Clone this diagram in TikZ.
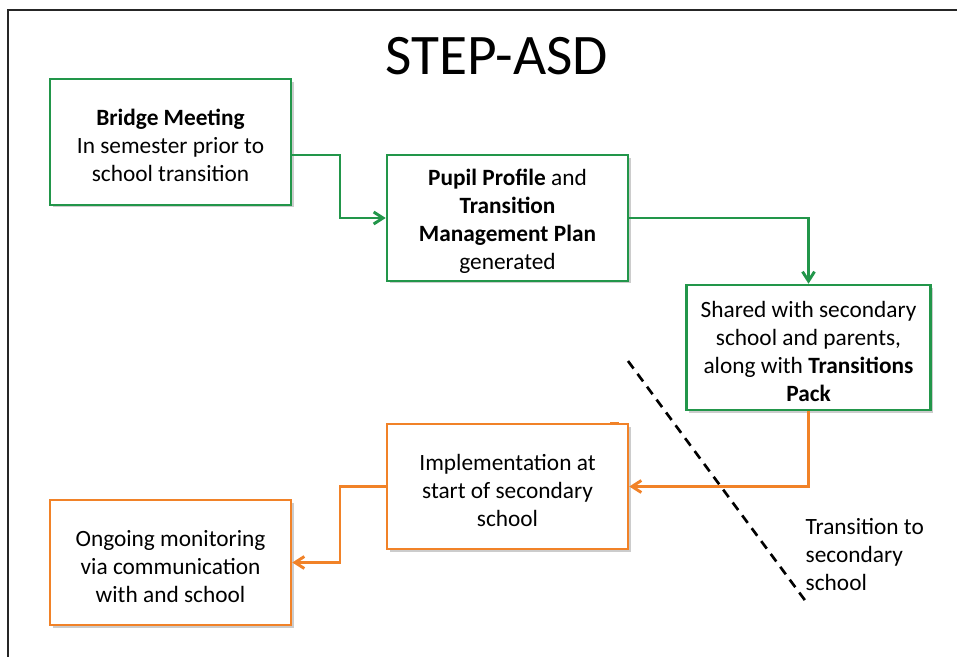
\documentclass[tikz,border=0pt]{standalone}
\usepackage{fontspec}
\setmainfont{Carlito}
\usetikzlibrary{arrows.meta,shadows}
\definecolor{boxgreen}{RGB}{34,150,74}
\definecolor{boxorange}{RGB}{241,130,40}
\newcommand{\toppad}{\rule{0pt}{17.5pt}}
\tikzset{
  flowbox/.style={draw=#1, line width=1.7pt, fill=white, minimum width=181pt, minimum height=94pt,
    align=center, font=\fontsize{17.5}{21}\selectfont, inner sep=2pt,
    drop shadow={shadow xshift=2pt, shadow yshift=-2pt, fill=black, opacity=0.2}},
  link/.style={draw=#1, line width=2.2pt, -{Straight Barb[length=7pt,width=9pt,line width=2.2pt]}},
  frameline/.style={line width=1.1pt, black!85},
  divider/.style={line width=2pt, dash pattern=on 7pt off 5pt, black},
}
\begin{document}
\begin{tikzpicture}[x=0.75pt,y=-0.75pt]
\useasboundingbox (0,0) rectangle (957,657);
\draw[frameline] (8,660) -- (8,10) -- (960,10);
\node[font=\fontsize{43}{48}\selectfont] (title) at (497,56) {STEP-ASD};

\node[flowbox=boxgreen] (b1) at (170.5,142) {\toppad\textbf{Bridge Meeting}\\In semester prior to\\school transition};
\node[flowbox=boxgreen] (b2) at (507.5,218) {\toppad\textbf{Pupil Profile} and\\\textbf{Transition}\\\textbf{Management Plan}\\generated};
\node[flowbox=boxgreen, minimum width=183pt] (b3) at (808.5,347.5) {\toppad Shared with secondary\\school and parents,\\along with \textbf{Transitions}\\\textbf{Pack}};
\node[flowbox=boxorange] (b4) at (507.5,486.5) {\toppad Implementation at\\start of secondary\\school};
\node[flowbox=boxorange] (b5) at (170.5,562.5) {\toppad Ongoing monitoring\\via communication\\with and school};

\node[align=left, anchor=west, font=\fontsize{17.5}{21}\selectfont] (lbl) at (801,555) {Transition to\\secondary\\school};

\coordinate (d1) at (628,361);
\coordinate (d2) at (807,603);
\draw[divider] (d1) -- (d2);

\draw[link=boxgreen] (b1.east |- 0,155) -- (340,155) |- (b2.west);
\draw[link=boxgreen] (b2.east) -| (b3.north);
\draw[link=boxorange] (b3.south) |- (b4.east);
\draw[link=boxorange] (b4.west) -- (340,486.5) |- (b5.east);

\coordinate (t1) at (610,422.5);
\coordinate (t2) at (619,422.5);
\draw[boxorange, line width=1.2pt] (t1) -- (t2);
\end{tikzpicture}
\end{document}
